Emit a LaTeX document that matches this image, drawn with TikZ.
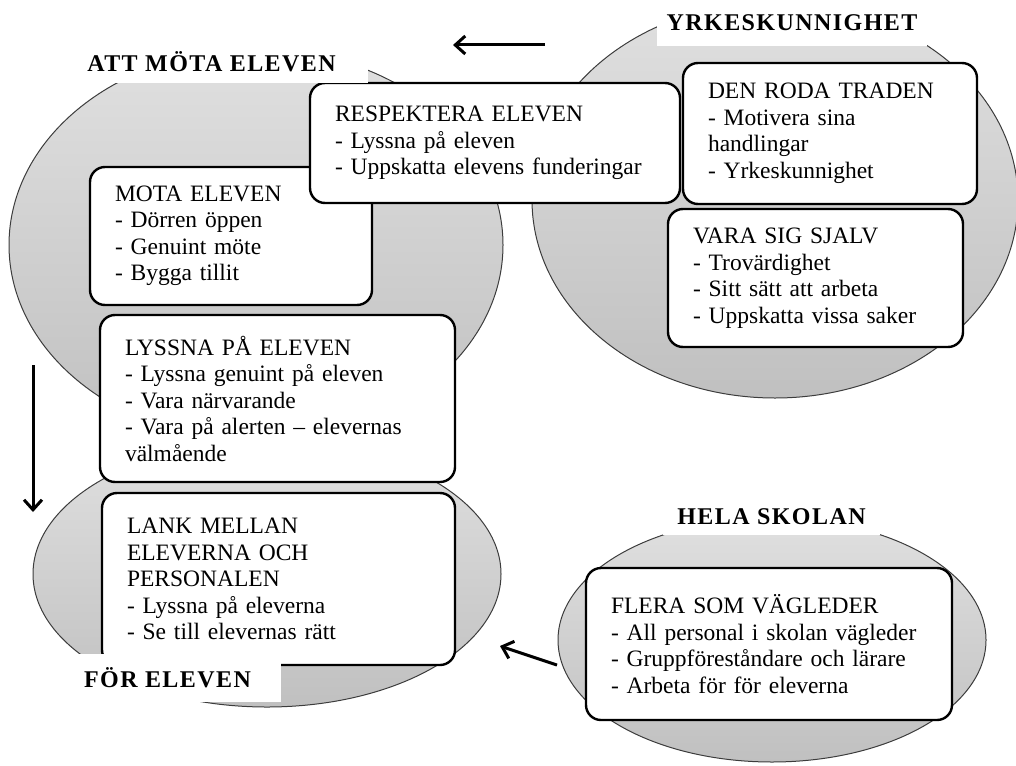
\documentclass[tikz,border=0pt]{standalone}
\usepackage{fontspec}
\setmainfont{Liberation Serif}
\newfontfamily\headfont[LetterSpace=6.0]{Liberation Serif}
\usepackage{tikz}
\usetikzlibrary{arrows.meta,shapes.geometric,positioning}
\usepackage{xcolor}
\definecolor{elltop}{RGB}{224,224,224}
\definecolor{ellbot}{RGB}{192,192,192}
\definecolor{ellline}{RGB}{60,60,60}
\tikzstyle{arrow} = [line width=3pt,-{Straight Barb[length=10pt,width=18pt]}]
\tikzstyle{area} = [ellipse, draw=ellline, line width=1pt, top color=elltop, bottom color=ellbot, inner sep=0pt]
\tikzstyle{theme} = [rectangle, rounded corners=15pt, draw=black, line width=2.4pt, fill=white, align=left, inner xsep=25pt, font=\fontsize{23.5}{26.5}\selectfont]
\tikzstyle{heading} = [rectangle, fill=white, inner sep=0pt, font=\headfont\bfseries\fontsize{24}{26}\selectfont]

\begin{document}
\begin{tikzpicture}[x=1pt,y=-1pt]
    \useasboundingbox (0,0) rectangle (1016,765);
    \clip (0,0) rectangle (1016,765);

    % Areas
    \node[area, minimum width=494pt, minimum height=392pt] (eatt) at (256,245) {};
    \node[area, minimum width=486pt, minimum height=396pt] (eyrke) at (775,200) {};
    \node[area, minimum width=468pt, minimum height=266pt] (efor) at (267,574) {};
    \node[area, minimum width=428pt, minimum height=244pt] (ehela) at (772,640) {};

    % Theme boxes
    \node[theme, text width=232pt, minimum height=138pt] (mota) at (231,236) {MOTA ELEVEN\\- Dörren öppen\\- Genuint möte\\- Bygga tillit};
    \node[theme, text width=320pt, minimum height=120pt] (resp) at (495,143) {RESPEKTERA ELEVEN\\- Lyssna på eleven\\- Uppskatta elevens funderingar};
    \node[theme, text width=244pt, minimum height=141pt] (roda) at (830,133.5) {DEN RODA TRADEN\\- Motivera sina\\handlingar\\- Yrkeskunnighet};
    \node[theme, text width=245pt, minimum height=138pt] (vara) at (815.5,278) {VARA SIG SJALV\\- Trovärdighet\\- Sitt sätt att arbeta\\- Uppskatta vissa saker};
    \node[theme, text width=305pt, minimum height=167pt] (lyssna) at (277.5,398.5) {LYSSNA PÅ ELEVEN\\- Lyssna genuint på eleven\\- Vara närvarande\\- Vara på alerten – elevernas\\välmående};
    \node[theme, text width=303pt, minimum height=172pt] (lank) at (278.5,579) {LANK MELLAN\\ELEVERNA OCH\\PERSONALEN\\- Lyssna på eleverna\\- Se till elevernas rätt};
    \node[theme, text width=316pt, minimum height=152pt] (flera) at (769,644) {FLERA SOM VÄGLEDER\\- All personal i skolan vägleder\\- Gruppföreståndare och lärare\\- Arbeta för för eleverna};

    % Headings
    \node[heading, minimum width=313pt, minimum height=43pt] (hatt) at (211.5,61.5) {ATT MÖTA ELEVEN};
    \node[heading, minimum width=270pt, minimum height=46pt] (hyrke) at (792,23) {YRKESKUNNIGHET};
    \node[heading, minimum width=217pt, minimum height=36pt] (hhela) at (771.5,517) {HELA SKOLAN};
    \node[heading, minimum width=227pt, minimum height=48pt] (hfor) at (167.5,678) {FÖR ELEVEN};

    % Arrows
    \coordinate (topstart) at (545,45);
    \coordinate (topend) at (453,45);
    \coordinate (leftstart) at (33,365);
    \coordinate (leftend) at (33,512);
    \coordinate (botstart) at (557,665);
    \coordinate (botend) at (500,646);
    \draw[arrow] (topstart) -- (topend);
    \draw[arrow] (leftstart) -- (leftend);
    \draw[arrow] (botstart) -- (botend);
\end{tikzpicture}
\end{document}
